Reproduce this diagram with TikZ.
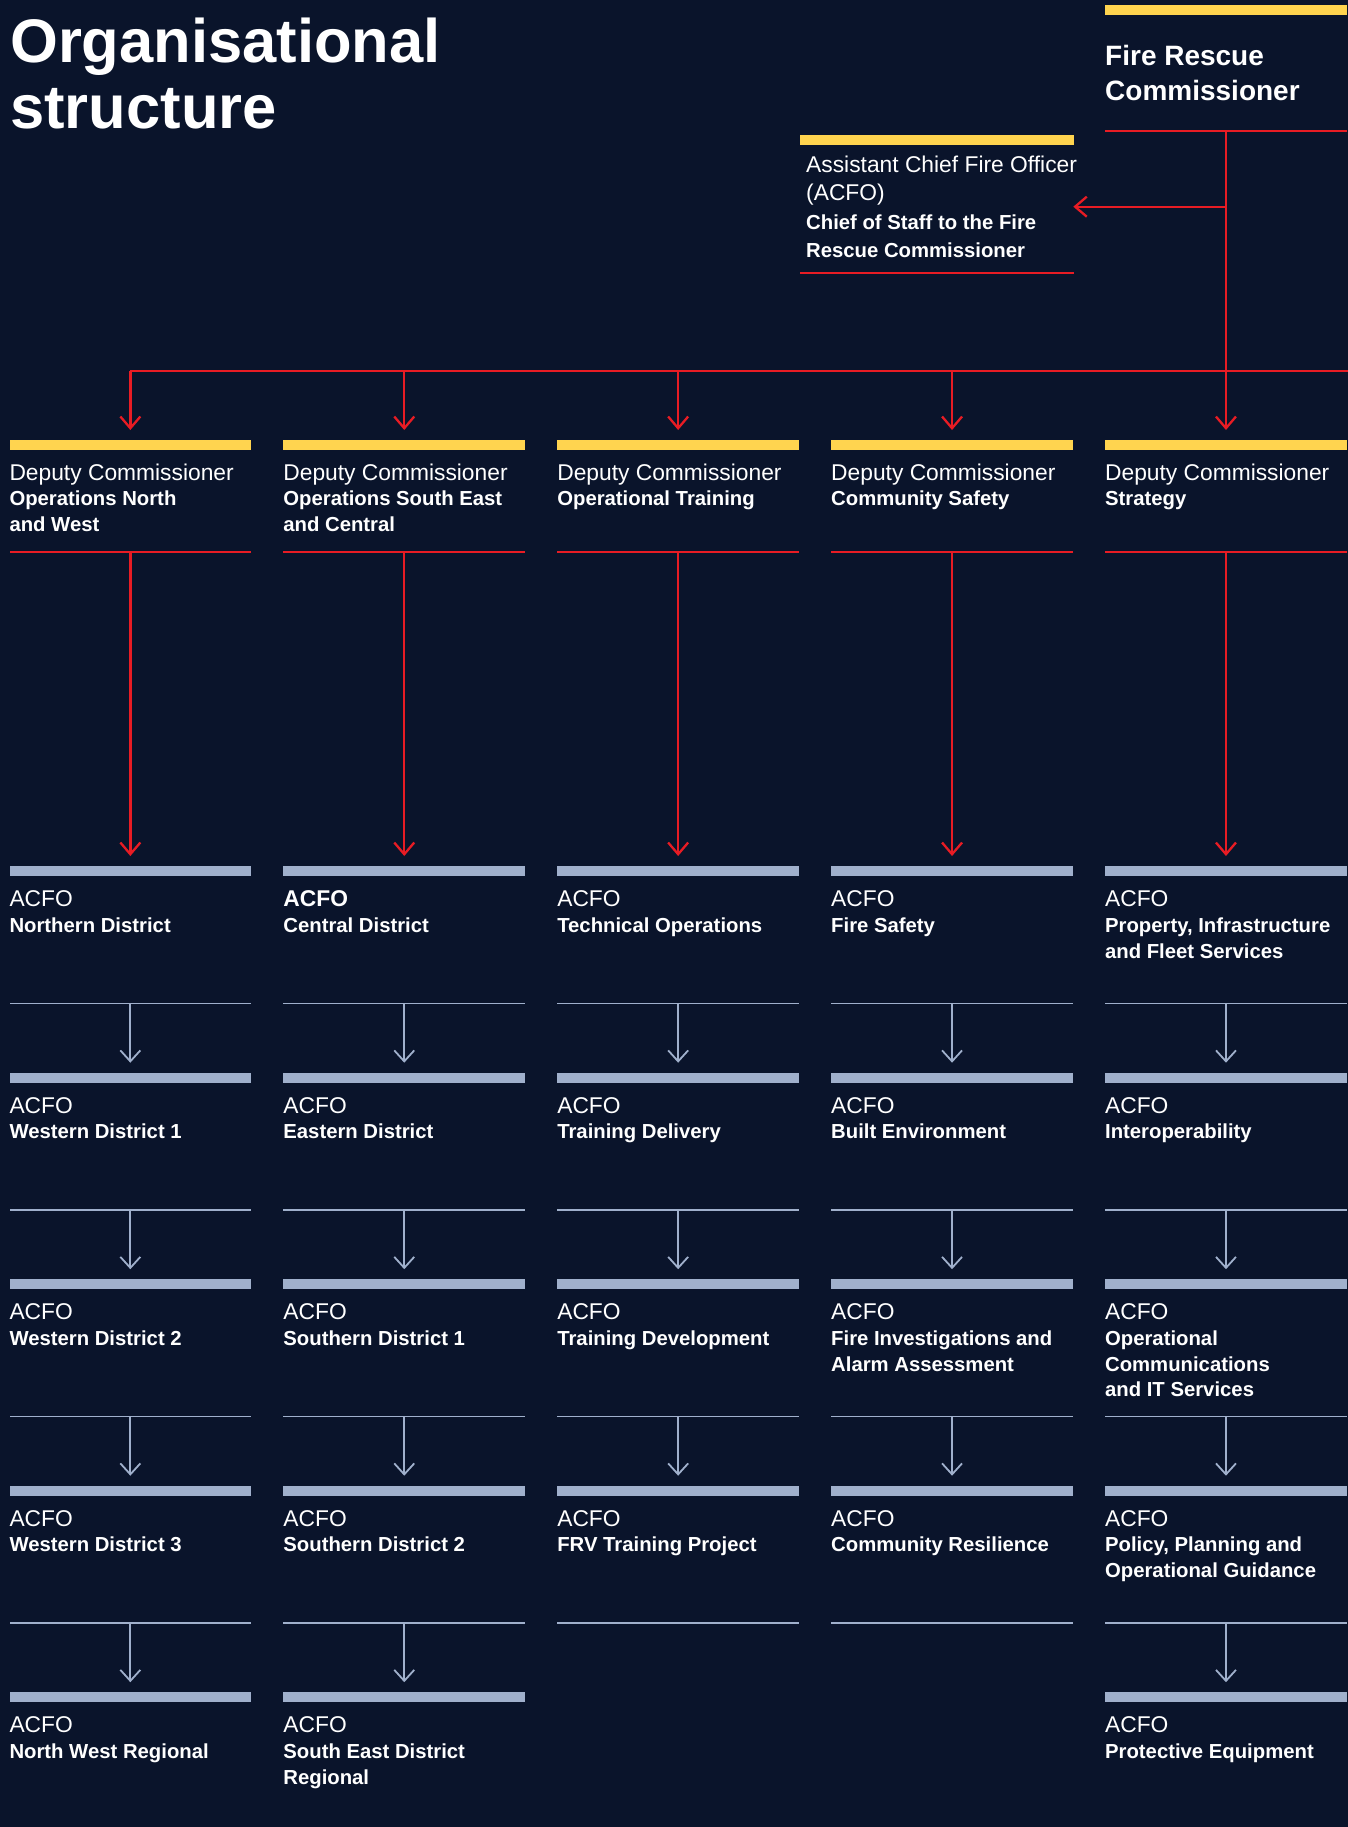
\documentclass[tikz,border=0pt]{standalone}
\usepackage{fontspec}
\setmainfont{Liberation Sans}
\usetikzlibrary{arrows.meta}
\definecolor{bgnavy}{RGB}{10,20,43}
\definecolor{fryellow}{RGB}{255,212,79}
\definecolor{frred}{RGB}{232,28,36}
\definecolor{frgrey}{RGB}{160,176,204}
\newcommand\ftlight{\fontsize{22.8pt}{25.7pt}\selectfont\mdseries}
\newcommand\ftbold{\fontsize{20.3pt}{25.7pt}\selectfont\bfseries}
\newcommand\ftacfob{\fontsize{22.8pt}{25.7pt}\selectfont\bfseries}
\newcommand\chlight{\fontsize{22.8pt}{28.3pt}\selectfont\mdseries}
\newcommand\chbold{\fontsize{20.3pt}{28.3pt}\selectfont\bfseries}
\newcommand\blk[1]{\vtop{\hsize=330pt\parindent=0pt #1\par}}
\tikzset{
  ybar/.style={fill=fryellow, draw=none, inner sep=0pt, minimum width=241.7pt, minimum height=10pt, anchor=north west},
  gbar/.style={ybar, fill=frgrey},
  rrule/.style={fill=frred, draw=none, inner sep=0pt, minimum width=241.7pt, minimum height=2.3pt, anchor=west},
  grule/.style={rrule, fill=frgrey, minimum height=1.8pt},
  txt/.style={text=white, inner sep=0pt, anchor=base west},
  rline/.style={draw=frred, line width=2.3pt},
  rarr/.style={rline, -{Straight Barb[length=11.7pt,width=20pt]}},
  garr/.style={draw=frgrey, line width=1.8pt, -{Straight Barb[length=11pt,width=20pt]}},
}
% unit: name, x-left, bar top, bar style, text
\newcommand\unit[5]{%
  \node[#4] (#1bar) at (#2,#3) {};
  \node[txt] (#1txt) at ({#2},{#3+40.8}) {\blk{#5}};
}
\newcommand\sepline[3]{\node[grule] (#1) at (#2,#3) {};}
\begin{document}
\begin{tikzpicture}[x=1pt,y=-1pt]
\fill[bgnavy] (0,0) rectangle (1348,1827);
\useasboundingbox (0,0) rectangle (1348,1827);

% title
\node[txt] (title) at (10,62.5) {\vtop{\hsize=600pt\parindent=0pt\fontsize{61.5pt}{66pt}\selectfont\bfseries Organisational\par structure\par}};

% Fire Rescue Commissioner
\node[ybar] (frcbar) at (1104.9,5) {};
\node[txt] (frctxt) at (1105,66) {\vtop{\hsize=300pt\parindent=0pt\fontsize{28pt}{35pt}\selectfont\bfseries Fire Rescue\par Commissioner\par}};
\node[rrule] (frcrule) at (1104.9,131) {};

% Chief of staff
\node[ybar, minimum width=273.8pt] (chbar) at (799.5,135) {};
\node[txt] (chtxt) at (806,172.7) {\blk{\chlight Assistant Chief Fire Officer\par (ACFO)\par\chbold Chief of Staff to the Fire\par Rescue Commissioner}};
\node[rrule, minimum width=273.8pt] (chrule) at (799.5,272.7) {};
\coordinate (chiefin) at (1073.3,206.7);

% bus
\coordinate (busL) at (130.15,370.7);
\coordinate (busR) at (1348,370.7);

% Deputy commissioners
\unit{d1}{9.3}{439.3}{ybar}{\ftlight Deputy Commissioner\par\ftbold Operations North\par and West}
\unit{d2}{283.2}{439.3}{ybar}{\ftlight Deputy Commissioner\par\ftbold Operations South East\par and Central}
\unit{d3}{557.1}{439.3}{ybar}{\ftlight Deputy Commissioner\par\ftbold Operational Training}
\unit{d4}{831.0}{439.3}{ybar}{\ftlight Deputy Commissioner\par\ftbold Community Safety}
\unit{d5}{1104.9}{439.3}{ybar}{\ftlight Deputy Commissioner\par\ftbold Strategy}
\node[rrule] (d1rule) at (9.3,552) {};
\node[rrule] (d2rule) at (283.2,552) {};
\node[rrule] (d3rule) at (557.1,552) {};
\node[rrule] (d4rule) at (831.0,552) {};
\node[rrule] (d5rule) at (1104.9,552) {};

% Column 1
\unit{aa}{9.3}{865.8}{gbar}{\ftlight ACFO\par\ftbold Northern District}
\unit{ab}{9.3}{1072.3}{gbar}{\ftlight ACFO\par\ftbold Western District 1}
\unit{ac}{9.3}{1278.8}{gbar}{\ftlight ACFO\par\ftbold Western District 2}
\unit{ad}{9.3}{1485.3}{gbar}{\ftlight ACFO\par\ftbold Western District 3}
\unit{ae}{9.3}{1691.8}{gbar}{\ftlight ACFO\par\ftbold North West Regional}
\sepline{as1}{9.3}{1003.5}
\sepline{as2}{9.3}{1210}
\sepline{as3}{9.3}{1416.5}
\sepline{as4}{9.3}{1623}

% Column 2
\unit{ba}{283.2}{865.8}{gbar}{\ftacfob ACFO\par\ftbold Central District}
\unit{bb}{283.2}{1072.3}{gbar}{\ftlight ACFO\par\ftbold Eastern District}
\unit{bc}{283.2}{1278.8}{gbar}{\ftlight ACFO\par\ftbold Southern District 1}
\unit{bd}{283.2}{1485.3}{gbar}{\ftlight ACFO\par\ftbold Southern District 2}
\unit{be}{283.2}{1691.8}{gbar}{\ftlight ACFO\par\ftbold South East District\par Regional}
\sepline{bs1}{283.2}{1003.5}
\sepline{bs2}{283.2}{1210}
\sepline{bs3}{283.2}{1416.5}
\sepline{bs4}{283.2}{1623}

% Column 3
\unit{ca}{557.1}{865.8}{gbar}{\ftlight ACFO\par\ftbold Technical Operations}
\unit{cb}{557.1}{1072.3}{gbar}{\ftlight ACFO\par\ftbold Training Delivery}
\unit{cc}{557.1}{1278.8}{gbar}{\ftlight ACFO\par\ftbold Training Development}
\unit{cd}{557.1}{1485.3}{gbar}{\ftlight ACFO\par\ftbold FRV Training Project}
\sepline{cs1}{557.1}{1003.5}
\sepline{cs2}{557.1}{1210}
\sepline{cs3}{557.1}{1416.5}
\sepline{cs4}{557.1}{1623}

% Column 4
\unit{ea}{831.0}{865.8}{gbar}{\ftlight ACFO\par\ftbold Fire Safety}
\unit{eb}{831.0}{1072.3}{gbar}{\ftlight ACFO\par\ftbold Built Environment}
\unit{ec}{831.0}{1278.8}{gbar}{\ftlight ACFO\par\ftbold Fire Investigations and\par Alarm Assessment}
\unit{ed}{831.0}{1485.3}{gbar}{\ftlight ACFO\par\ftbold Community Resilience}
\sepline{es1}{831.0}{1003.5}
\sepline{es2}{831.0}{1210}
\sepline{es3}{831.0}{1416.5}
\sepline{es4}{831.0}{1623}

% Column 5
\unit{fa}{1104.9}{865.8}{gbar}{\ftlight ACFO\par\ftbold Property, Infrastructure\par and Fleet Services}
\unit{fb}{1104.9}{1072.3}{gbar}{\ftlight ACFO\par\ftbold Interoperability}
\unit{fc}{1104.9}{1278.8}{gbar}{\ftlight ACFO\par\ftbold Operational\par Communications\par and IT Services}
\unit{fd}{1104.9}{1485.3}{gbar}{\ftlight ACFO\par\ftbold Policy, Planning and\par Operational Guidance}
\unit{fe}{1104.9}{1691.8}{gbar}{\ftlight ACFO\par\ftbold Protective Equipment}
\sepline{fs1}{1104.9}{1003.5}
\sepline{fs2}{1104.9}{1210}
\sepline{fs3}{1104.9}{1416.5}
\sepline{fs4}{1104.9}{1623}

% red connectors
\draw[rline] (busL) -- (busR);
\draw[rarr, shorten >=9.3pt] (frcrule.center) -- (d5bar.north);
\draw[rarr] (frcrule.center |- chiefin) -- (chiefin);
\foreach \d in {d1,d2,d3,d4}{
  \draw[rarr, shorten >=9.3pt] (\d bar.north |- busL) -- (\d bar.north);
}
\draw[rarr, shorten >=9.8pt] (d1rule.center) -- (aabar.north);
\draw[rarr, shorten >=9.8pt] (d2rule.center) -- (babar.north);
\draw[rarr, shorten >=9.8pt] (d3rule.center) -- (cabar.north);
\draw[rarr, shorten >=9.8pt] (d4rule.center) -- (eabar.north);
\draw[rarr, shorten >=9.8pt] (d5rule.center) -- (fabar.north);

% grey connectors
\foreach \s/\t in {as1/ab,as2/ac,as3/ad,as4/ae,bs1/bb,bs2/bc,bs3/bd,bs4/be,cs1/cb,cs2/cc,cs3/cd,es1/eb,es2/ec,es3/ed,fs1/fb,fs2/fc,fs3/fd,fs4/fe}{
  \draw[garr, shorten >=9.6pt] (\s.center) -- (\t bar.north);
}
\end{tikzpicture}
\end{document}
